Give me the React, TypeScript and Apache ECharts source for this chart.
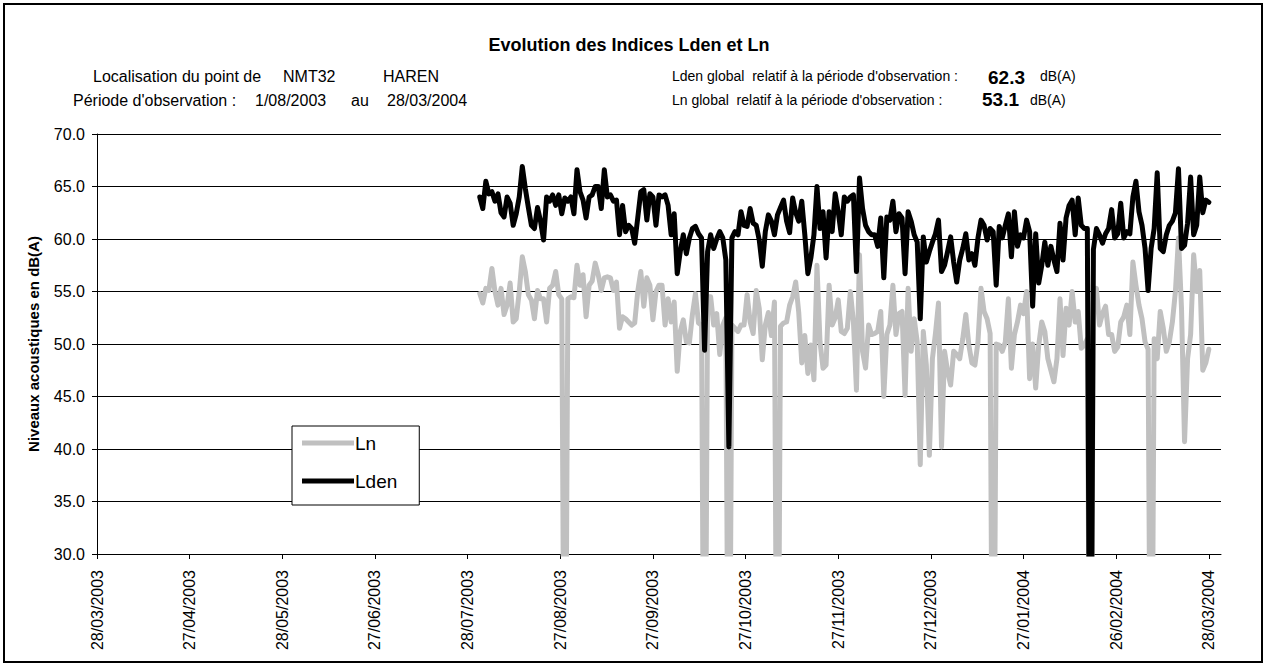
import React, { useEffect, useRef } from "react";
import * as echarts from "echarts";

// x axis: day offset from 28/03/2003; ticks every 30.5 days
const tickLabels = [
  "28/03/2003", "27/04/2003", "28/05/2003", "27/06/2003", "28/07/2003", "27/08/2003",
  "27/09/2003", "27/10/2003", "27/11/2003", "27/12/2003", "27/01/2004", "26/02/2004", "28/03/2004",
];
const tickStep = 30.5;
const firstDay = 126; // 01/08/2003

const lnValues = [
  54.8, 53.9, 55.3, 55.1, 57.2, 55.0, 53.7, 55.3, 52.8, 53.7, 55.8, 52.1, 52.4, 55.0, 58.3, 56.9, 54.7, 54.2, 52.4, 55.1,
  54.3, 54.3, 52.1, 55.3, 55.6, 56.9, 54.7, 54.3, 0, 54.3, 54.5, 54.4, 57.5, 55.6, 56.6, 52.6, 55.6, 56.0, 57.7, 56.6,
  55.1, 56.3, 56.4, 56.3, 55.1, 55.9, 51.5, 52.6, 52.4, 52.1, 51.8, 52.0, 55.0, 56.9, 53.6, 56.3, 55.6, 52.3, 55.0, 55.6,
  55.6, 51.8, 54.3, 52.1, 54.0, 47.4, 51.2, 52.3, 50.2, 50.1, 52.8, 54.8, 52.0, 51.8, 0, 54.5, 54.5, 51.8, 52.9, 49.0,
  51.8, 52.5, 0, 51.8, 51.5, 51.2, 51.8, 51.8, 54.7, 52.1, 51.0, 55.1, 53.4, 48.5, 51.8, 53.0, 50.8, 54.0, 0, 51.7,
  52.0, 52.1, 53.7, 54.5, 55.9, 53.0, 48.2, 50.8, 47.2, 49.9, 46.6, 57.5, 50.2, 47.7, 48.0, 55.6, 51.8, 52.5, 54.2, 51.2,
  51.0, 51.5, 55.0, 52.1, 45.6, 58.5, 49.3, 47.7, 51.8, 50.9, 51.0, 51.2, 53.1, 45.0, 50.9, 51.8, 55.6, 50.9, 52.9, 53.1,
  45.1, 55.3, 49.3, 52.4, 50.2, 38.5, 51.2, 48.0, 39.4, 48.6, 51.0, 53.9, 40.2, 49.3, 47.4, 46.1, 49.3, 49.0, 48.6, 50.5,
  52.8, 49.9, 48.2, 48.0, 50.2, 55.3, 53.1, 52.4, 51.0, 0, 50.0, 49.9, 49.3, 50.2, 54.3, 47.7, 50.9, 52.1, 53.7, 52.9,
  55.0, 46.7, 50.0, 45.8, 49.9, 52.1, 51.2, 48.6, 47.5, 46.4, 48.6, 54.3, 48.9, 53.4, 51.8, 55.0, 52.1, 53.1, 49.6, 49.9,
  50.5, 0, 54.0, 55.3, 51.8, 52.9, 53.6, 50.9, 50.9, 49.3, 49.7, 52.1, 52.6, 53.7, 50.9, 57.8, 55.6, 53.7, 52.4, 50.2,
  49.5, 0, 50.5, 48.6, 53.1, 51.5, 49.3, 50.2, 52.1, 55.0, 60.1, 53.4, 40.7, 48.6, 50.9, 58.5, 55.0, 57.0, 47.5, 48.2,
  49.5,
];

const ldenValues = [
  64.0, 62.9, 65.5, 64.3, 64.5, 63.6, 64.3, 62.5, 62.1, 64.0, 63.4, 61.3, 62.4, 64.0, 66.9, 64.8, 63.0, 61.3, 61.0, 63.0,
  61.7, 59.9, 64.0, 63.6, 64.2, 63.2, 64.2, 62.4, 63.9, 63.6, 64.0, 62.4, 66.6, 64.5, 63.7, 62.0, 64.0, 64.2, 65.0, 65.0,
  62.9, 66.6, 64.0, 64.2, 63.6, 63.7, 60.4, 63.2, 60.7, 61.3, 61.0, 59.6, 62.0, 64.5, 64.7, 61.8, 64.3, 64.0, 61.3, 64.2,
  64.0, 64.2, 63.2, 60.4, 62.4, 56.7, 58.8, 60.4, 58.6, 60.1, 61.0, 61.2, 60.5, 60.1, 49.4, 58.8, 60.4, 59.1, 60.0, 60.7,
  60.1, 58.0, 40.2, 60.1, 60.7, 60.4, 62.6, 61.3, 61.2, 62.9, 61.5, 61.3, 59.9, 57.4, 60.7, 62.3, 61.7, 60.4, 62.3, 63.0,
  63.7, 61.7, 60.6, 63.9, 62.5, 61.7, 63.6, 60.4, 56.7, 58.2, 60.4, 65.0, 61.0, 62.6, 58.2, 62.6, 60.7, 64.3, 62.6, 60.4,
  64.0, 63.6, 64.0, 64.2, 56.9, 65.8, 62.9, 61.3, 60.7, 60.4, 60.4, 59.3, 62.0, 56.3, 62.1, 61.8, 63.6, 60.7, 62.4, 62.0,
  56.7, 62.6, 61.7, 60.4, 59.7, 52.4, 60.2, 57.8, 58.8, 59.7, 60.5, 61.8, 56.9, 57.5, 58.8, 60.2, 57.8, 55.9, 58.0, 59.1,
  60.5, 58.0, 58.6, 57.5, 60.1, 61.8, 61.3, 59.9, 61.0, 60.7, 55.6, 61.2, 60.1, 61.3, 62.4, 58.3, 62.6, 59.3, 60.4, 60.1,
  61.8, 60.7, 53.6, 60.5, 55.8, 57.5, 59.7, 57.5, 59.3, 58.0, 56.9, 61.5, 58.0, 62.0, 63.2, 63.7, 60.4, 63.9, 61.3, 61.0,
  61.0, 0, 59.0, 61.0, 60.4, 59.6, 60.5, 61.0, 62.8, 60.1, 60.5, 63.4, 60.1, 60.7, 60.5, 64.0, 65.5, 62.6, 61.3, 59.1,
  55.1, 59.1, 61.0, 66.3, 59.1, 58.8, 60.4, 61.3, 61.7, 62.5, 66.7, 59.1, 59.4, 61.5, 65.9, 60.4, 61.3, 65.9, 62.5, 63.7,
  63.5,
];

const FONT = "'Liberation Sans', Arial, sans-serif";

export default function App() {
  const ref = useRef<HTMLDivElement>(null);

  useEffect(() => {
    if (!ref.current) return;
    const chart = echarts.init(ref.current, null, { renderer: "svg" });
    const tickDays = tickLabels.map((_, i) => i * tickStep);
    const txt = (text: string, x: number, y: number, size: number, bold = false, align = "left") => ({
      type: "text",
      x,
      y,
      style: {
        text,
        fontSize: size,
        fontWeight: bold ? "bold" : "normal",
        fontFamily: FONT,
        fill: "#000",
        align,
        verticalAlign: "middle",
      },
    });

    chart.setOption({
      animation: false,
      backgroundColor: "#fff",
      textStyle: { fontFamily: FONT },
      grid: { left: 97, right: 49, top: 134, bottom: 114 },
      legend: {
        orient: "vertical",
        left: 292,
        top: 426,
        backgroundColor: "#fff",
        borderColor: "#000",
        borderWidth: 1,
        padding: [7, 22, 14, 10],
        icon: "rect",
        itemWidth: 52,
        itemHeight: 5,
        itemGap: 18,
        textStyle: { fontSize: 19, lineHeight: 20, color: "#000", fontFamily: FONT, padding: [0, 0, 0, -4] },
        data: ["Ln", "Lden"],
      },
      xAxis: {
        type: "value",
        min: 0,
        max: 370,
        splitLine: { show: false },
        axisLine: { show: true, lineStyle: { color: "#000", width: 1 } },
        axisTick: {
          show: true,
          customValues: tickDays,
          length: 5,
          lineStyle: { color: "#000" },
        },
        axisLabel: {
          customValues: tickDays,
          rotate: 90,
          margin: 16,
          fontSize: 16,
          color: "#000",
          fontFamily: FONT,
          formatter: (v: number) => tickLabels[Math.round(v / tickStep)] ?? "",
        },
      },
      yAxis: {
        type: "value",
        min: 30,
        max: 70,
        interval: 5,
        axisLine: { show: true, lineStyle: { color: "#000", width: 1 } },
        axisTick: { show: true, length: 5, lineStyle: { color: "#000" } },
        splitLine: { show: true, lineStyle: { color: "#000", width: 1 } },
        axisLabel: {
          margin: 12,
          fontSize: 16,
          color: "#000",
          fontFamily: FONT,
          formatter: (v: number) => v.toFixed(1),
        },
      },
      series: [
        {
          name: "Ln",
          type: "line",
          symbol: "none",
          z: 2,
          data: lnValues.map((v, i) => [firstDay + i, v]),
          itemStyle: { color: "#C0C0C0" },
          lineStyle: { color: "#C0C0C0", width: 5, join: "round", cap: "round" },
        },
        {
          name: "Lden",
          type: "line",
          symbol: "none",
          z: 3,
          data: ldenValues.map((v, i) => [firstDay + i, v]),
          itemStyle: { color: "#000" },
          lineStyle: { color: "#000", width: 5, join: "round", cap: "round" },
        },
      ],
      graphic: [
        {
          type: "rect",
          shape: { x: 4, y: 4, width: 1258, height: 658 },
          style: { fill: "none", stroke: "#000", lineWidth: 2 },
          silent: true,
        },
        txt("Evolution des Indices Lden et Ln", 629, 45, 18, true, "center"),
        txt("Localisation du point de", 93, 76, 16),
        txt("NMT32", 283, 76, 16),
        txt("HAREN", 383, 76, 16),
        txt("Période d'observation :", 73, 100, 16),
        txt("1/08/2003", 255, 100, 16),
        txt("au", 351, 100, 16),
        txt("28/03/2004", 387, 100, 16),
        txt("Lden global  relatif à la période d'observation :", 672, 76, 14),
        txt("62.3", 988, 77, 19, true),
        txt("dB(A)", 1040, 76, 14),
        txt("Ln global  relatif à la période d'observation :", 672, 100, 14),
        txt("53.1", 982, 99, 19, true),
        txt("dB(A)", 1030, 100, 14),
        {
          type: "text",
          x: 33,
          y: 344,
          rotation: Math.PI / 2,
          style: {
            text: "Niveaux acoustiques en dB(A)",
            fontSize: 15,
            fontWeight: "bold",
            fontFamily: FONT,
            fill: "#000",
            align: "center",
            verticalAlign: "middle",
          },
        },
      ],
    });
    return () => chart.dispose();
  }, []);

  return (
    <div
      ref={ref}
      style={{ position: "fixed", left: 0, top: 0, width: 1270, height: 668, background: "#fff" }}
    />
  );
}
